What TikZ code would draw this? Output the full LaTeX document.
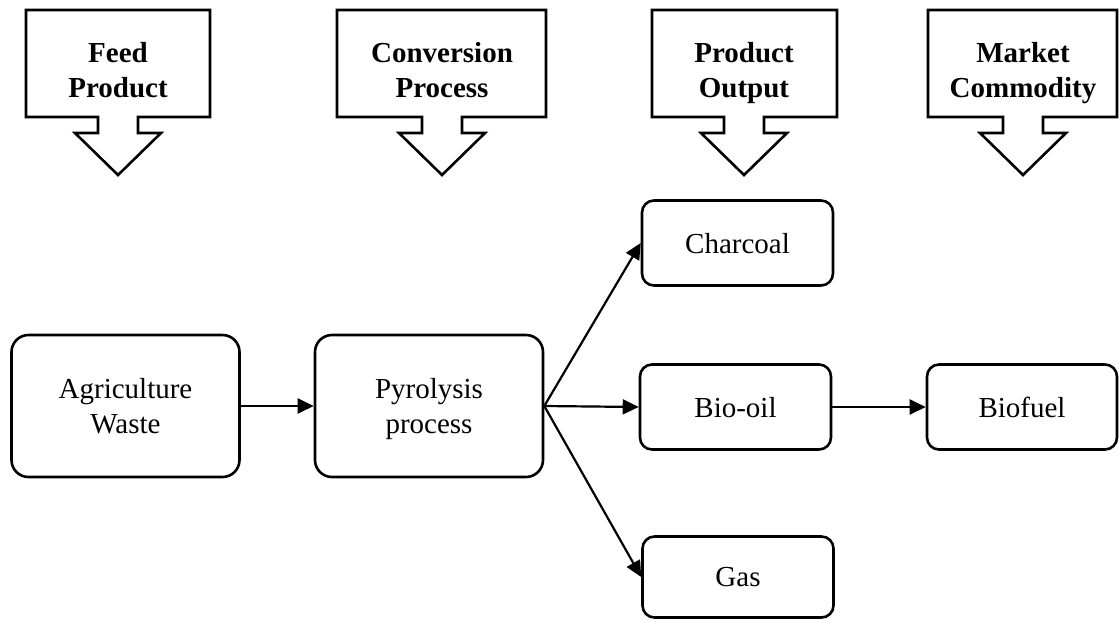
\documentclass[tikz,border=0pt]{standalone}
\usepackage{fontspec}
\setmainfont{Liberation Serif}
\usetikzlibrary{arrows.meta}
\newcommand\hdrcallout[4]{%
  \draw[callout] ({#3},175) -- ({#3+43},133) -- ({#3+20},133) -- ({#3+20},117)
    -- ({#2},117) -- ({#2},10) -- ({#1},10) -- ({#1},117) -- ({#3-20},117)
    -- ({#3-20},133) -- ({#3-43},133) -- cycle;
  \node[hdr] (#4) at ({#3},70) {\pgfkeysvalueof{/hdrtext/#4}};}
\begin{document}
\begin{tikzpicture}[x=1pt,y=-1pt,
  hdr/.style={font=\fontsize{29}{35}\selectfont\bfseries, align=center, text depth=0pt, inner sep=0pt},
  bigbox/.style={draw, line width=2.6pt, rounded corners=17pt, minimum width=228pt, minimum height=142pt,
     font=\fontsize{29}{35}\selectfont, align=center, text depth=0pt, inner sep=0pt},
  smallbox/.style={draw, line width=2.6pt, rounded corners=12pt, minimum width=191pt, minimum height=85pt,
     font=\fontsize{29}{35}\selectfont, align=center, text depth=0pt, inner sep=0pt},
  callout/.style={draw, line width=2.6pt, line join=miter},
  conn/.style={line width=2.2pt, -{Triangle[length=16pt,width=15pt]}}]
\useasboundingbox (0,0) rectangle (1119,619);
\clip (0,0) rectangle (1119,619);
\pgfkeys{/hdrtext/feed/.initial={Feed\\Product},
  /hdrtext/conv/.initial={Conversion\\Process},
  /hdrtext/outp/.initial={Product\\Output},
  /hdrtext/mark/.initial={Market\\Commodity}}
\hdrcallout{26}{210}{118}{feed}
\hdrcallout{337}{546}{442}{conv}
\hdrcallout{652}{837}{744}{outp}
\hdrcallout{928}{1117}{1023}{mark}

\node[bigbox] (agri) at (125.5,406) {Agriculture\\Waste};
\node[bigbox] (pyro) at (429,406) {Pyrolysis\\process};
\node[smallbox] (char) at (737.5,243) {Charcoal};
\node[smallbox] (bio) at (735.5,407) {Bio-oil};
\node[smallbox, minimum height=81pt] (gas) at (738,577) {Gas};
\node[smallbox, minimum width=190pt] (fuel) at (1022,407) {Biofuel};

\draw[conn] (agri.east) -- (pyro.west);
\draw[conn] (pyro.east) -- (char.west);
\draw[conn] (pyro.east) -- (bio.west);
\draw[conn] (pyro.east) -- (gas.west);
\draw[conn] (bio.east) -- (fuel.west);
\end{tikzpicture}
\end{document}
